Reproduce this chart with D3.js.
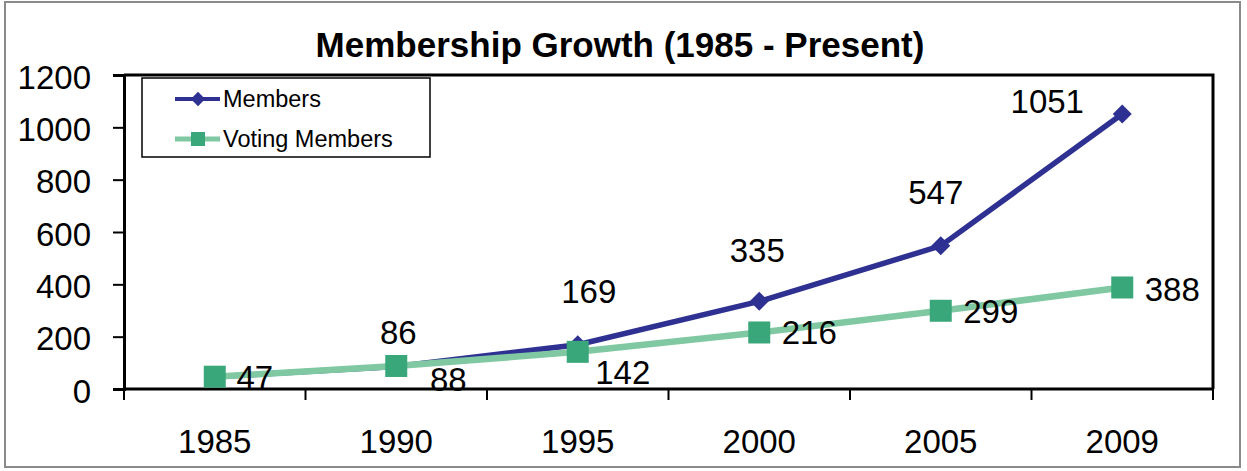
<!DOCTYPE html>
<html>
<head>
<meta charset="utf-8">
<script src="https://cdn.jsdelivr.net/npm/d3@7"></script>
<style>
  html, body { margin: 0; padding: 0; background: #fff; }
  svg { display: block; font-family: "Liberation Sans", Arial, sans-serif; }
</style>
</head>
<body>
<svg id="chart" width="1247" height="471"></svg>
<script>
const years = ["1985", "1990", "1995", "2000", "2005", "2009"];
const members = [47, 86, 169, 335, 547, 1051];
const votingMembers = [47, 88, 142, 216, 299, 388];
const yTicks = [0, 200, 400, 600, 800, 1000, 1200];

// label nudges (px) relative to each point, as placed in the original
const memberNudge = [null, [2, -34], [11, -53], [-2, -51], [-5, -53], [-75, -12]];
const votingNudge = [[40, 1], [52, 14], [45, 21], [50, 0], [50, 1], [50, 2]];

const NAVY = "#2e3192";
const GREEN_LINE = "#7fc8a2";
const GREEN_MARK = "#3aa77a";
const FONT = "33px";

const svg = d3.select("#chart");
const plot = { left: 124, right: 1213, top: 75, bottom: 389 };

// outer frame
svg.append("rect")
  .attr("x", 5).attr("y", 2)
  .attr("width", 1235).attr("height", 465)
  .attr("fill", "#fff")
  .attr("stroke", "#8a8a8a")
  .attr("stroke-width", 2);

svg.append("text")
  .attr("x", 620).attr("y", 57)
  .attr("text-anchor", "middle")
  .style("font-size", "35px")
  .style("font-weight", "bold")
  .text("Membership Growth (1985 - Present)");

const x = d3.scaleBand().domain(years).range([plot.left, plot.right]);
const y = d3.scaleLinear().domain([0, 1200]).range([plot.bottom, plot.top]);
const cx = d => x(d) + x.bandwidth() / 2;

// plot-area border (top/right)
svg.append("path")
  .attr("d", `M${plot.left},${plot.top}H${plot.right}V${plot.bottom}`)
  .attr("fill", "none")
  .attr("stroke", "#000")
  .attr("stroke-width", 3);

const yAxis = svg.append("g")
  .attr("transform", `translate(${plot.left},0)`)
  .call(d3.axisLeft(y).tickValues(yTicks).tickFormat(d3.format("d")).tickSize(11).tickPadding(22));
yAxis.select(".domain").attr("stroke-width", 3);
yAxis.selectAll(".tick line").attr("stroke-width", 2);
yAxis.selectAll("text").style("font-size", FONT).attr("fill", "#000").attr("dy", "0.4em");

// x axis: ticks at category boundaries
const xAxis = svg.append("g").attr("transform", `translate(0,${plot.bottom})`);
xAxis.append("line")
  .attr("x1", plot.left).attr("x2", plot.right)
  .attr("stroke", "#000").attr("stroke-width", 3);
const bounds = years.map(d => x(d)).concat([plot.right]);
xAxis.selectAll(".tk").data(bounds).join("line")
  .attr("x1", d => d).attr("x2", d => d)
  .attr("y1", 0).attr("y2", 11)
  .attr("stroke", "#000").attr("stroke-width", 2);
xAxis.selectAll(".lbl").data(years).join("text")
  .attr("x", d => cx(d)).attr("y", 64)
  .attr("text-anchor", "middle")
  .style("font-size", FONT)
  .text(d => d);

const line = d3.line().x((d, i) => cx(years[i])).y(d => y(d));

// members series
svg.append("path")
  .datum(members)
  .attr("d", line)
  .attr("fill", "none")
  .attr("stroke", NAVY)
  .attr("stroke-width", 5.5);
svg.selectAll(".dia").data(members).join("path")
  .attr("d", d3.symbol(d3.symbolDiamond2, 230))
  .attr("transform", (d, i) => `translate(${cx(years[i])},${y(d)})`)
  .attr("fill", NAVY);

// voting members series
svg.append("path")
  .datum(votingMembers)
  .attr("d", line)
  .attr("fill", "none")
  .attr("stroke", GREEN_LINE)
  .attr("stroke-width", 6.5);
svg.selectAll(".sq").data(votingMembers).join("rect")
  .attr("x", (d, i) => cx(years[i]) - 11)
  .attr("y", d => y(d) - 11)
  .attr("width", 22).attr("height", 22)
  .attr("fill", GREEN_MARK);

// data labels
const addLabels = (vals, nudge) => {
  vals.forEach((v, i) => {
    if (!nudge[i]) return;
    svg.append("text")
      .attr("x", cx(years[i]) + nudge[i][0])
      .attr("y", y(v) + nudge[i][1])
      .attr("text-anchor", "middle")
      .attr("dominant-baseline", "central")
      .style("font-size", FONT)
      .text(v);
  });
};
addLabels(members, memberNudge);
addLabels(votingMembers, votingNudge);

// legend
const lg = svg.append("g");
lg.append("rect")
  .attr("x", 142).attr("y", 78)
  .attr("width", 288).attr("height", 79)
  .attr("fill", "#fff")
  .attr("stroke", "#000")
  .attr("stroke-width", 1.5);
const legendItems = [
  { name: "Members", color: NAVY, mark: "diamond", ly: 99 },
  { name: "Voting Members", color: GREEN_LINE, mark: "square", ly: 139 }
];
legendItems.forEach(it => {
  lg.append("line")
    .attr("x1", 175).attr("x2", 220)
    .attr("y1", it.ly).attr("y2", it.ly)
    .attr("stroke", it.color)
    .attr("stroke-width", it.mark === "diamond" ? 4 : 5);
  if (it.mark === "diamond") {
    lg.append("path")
      .attr("d", d3.symbol(d3.symbolDiamond2, 130))
      .attr("transform", `translate(198,${it.ly})`)
      .attr("fill", NAVY);
  } else {
    lg.append("rect")
      .attr("x", 191).attr("y", it.ly - 7)
      .attr("width", 14).attr("height", 14)
      .attr("fill", GREEN_MARK);
  }
  lg.append("text")
    .attr("x", 223).attr("y", it.ly)
    .attr("dominant-baseline", "central")
    .style("font-size", "23.5px")
    .text(it.name);
});
</script>
</body>
</html>
